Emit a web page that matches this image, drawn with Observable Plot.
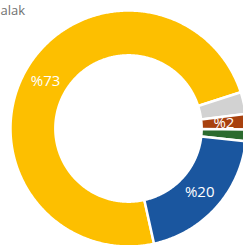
<!DOCTYPE html>
<html><head><meta charset="utf-8">
<script src="https://cdn.jsdelivr.net/npm/d3@7"></script>
<script src="https://cdn.jsdelivr.net/npm/@observablehq/plot@0.6"></script>
<style>html,body{margin:0;padding:0;background:#fff;overflow:hidden}</style>
</head><body><div id="chart"></div>
<script>
const titleText = "alak";
const categories = ["Sarı", "Gri", "Kahverengi", "Yeşil", "Mavi"];
const values = [73.5, 3, 2.1, 1.6, 19.8];
const labels = ["%73", "", "%2", "", "%20"];
const colors = ["#FDBF00", "#D2D2D2", "#A8410E", "#2C6B2F", "#1A569F"];

const startDeg = 167.5;
const inner = 0.62, outer = 1;
const pie = d3.pie().sort(null).value(d => d.value)
  .startAngle(startDeg * Math.PI / 180).endAngle(startDeg * Math.PI / 180 + 2 * Math.PI);
const rows = categories.map((c, i) => ({category: c, value: values[i], label: labels[i]}));
const arcs = pie(rows);

const pts = [];
for (const a of arcs) {
  const n = Math.max(8, Math.ceil((a.endAngle - a.startAngle) / 0.01));
  for (let k = 0; k <= n; k++) {
    const t = a.startAngle + (a.endAngle - a.startAngle) * k / n;
    pts.push({category: a.data.category, x: outer * Math.sin(t), y: outer * Math.cos(t)});
  }
  for (let k = n; k >= 0; k--) {
    const t = a.startAngle + (a.endAngle - a.startAngle) * k / n;
    pts.push({category: a.data.category, x: inner * Math.sin(t), y: inner * Math.cos(t)});
  }
}
const labelPts = arcs.filter(a => a.data.label).map(a => {
  const m = (a.startAngle + a.endAngle) / 2, r = (inner + outer) / 2;
  return {label: a.data.label, x: r * Math.sin(m), y: r * Math.cos(m)};
});

const W = 243, H = 245, cx = 128, cy = 128, R = 118;
const chart = Plot.plot({
  width: W, height: H, margin: 0,
  x: {domain: [(0 - cx) / R, (W - cx) / R], range: [0, W], axis: null},
  y: {domain: [-(H - cy) / R, cy / R], range: [H, 0], axis: null},
  color: {domain: categories, range: colors},
  style: {fontFamily: "Open Sans, sans-serif", background: "#fff"},
  marks: [
    Plot.line(pts, {x: "x", y: "y", z: "category", fill: "category", stroke: "#fff", strokeWidth: 2.5, curve: "linear-closed"}),
    Plot.text(labelPts, {x: "x", y: "y", text: "label", fill: "#fff", fontSize: 15, fontWeight: 500}),
    Plot.text([titleText], {frameAnchor: "top-left", text: d => d, textAnchor: "start", lineAnchor: "top", dx: 0, dy: 5, fill: "#707070", fontSize: 13})
  ]
});
document.getElementById("chart").append(chart);
</script>
</body></html>
